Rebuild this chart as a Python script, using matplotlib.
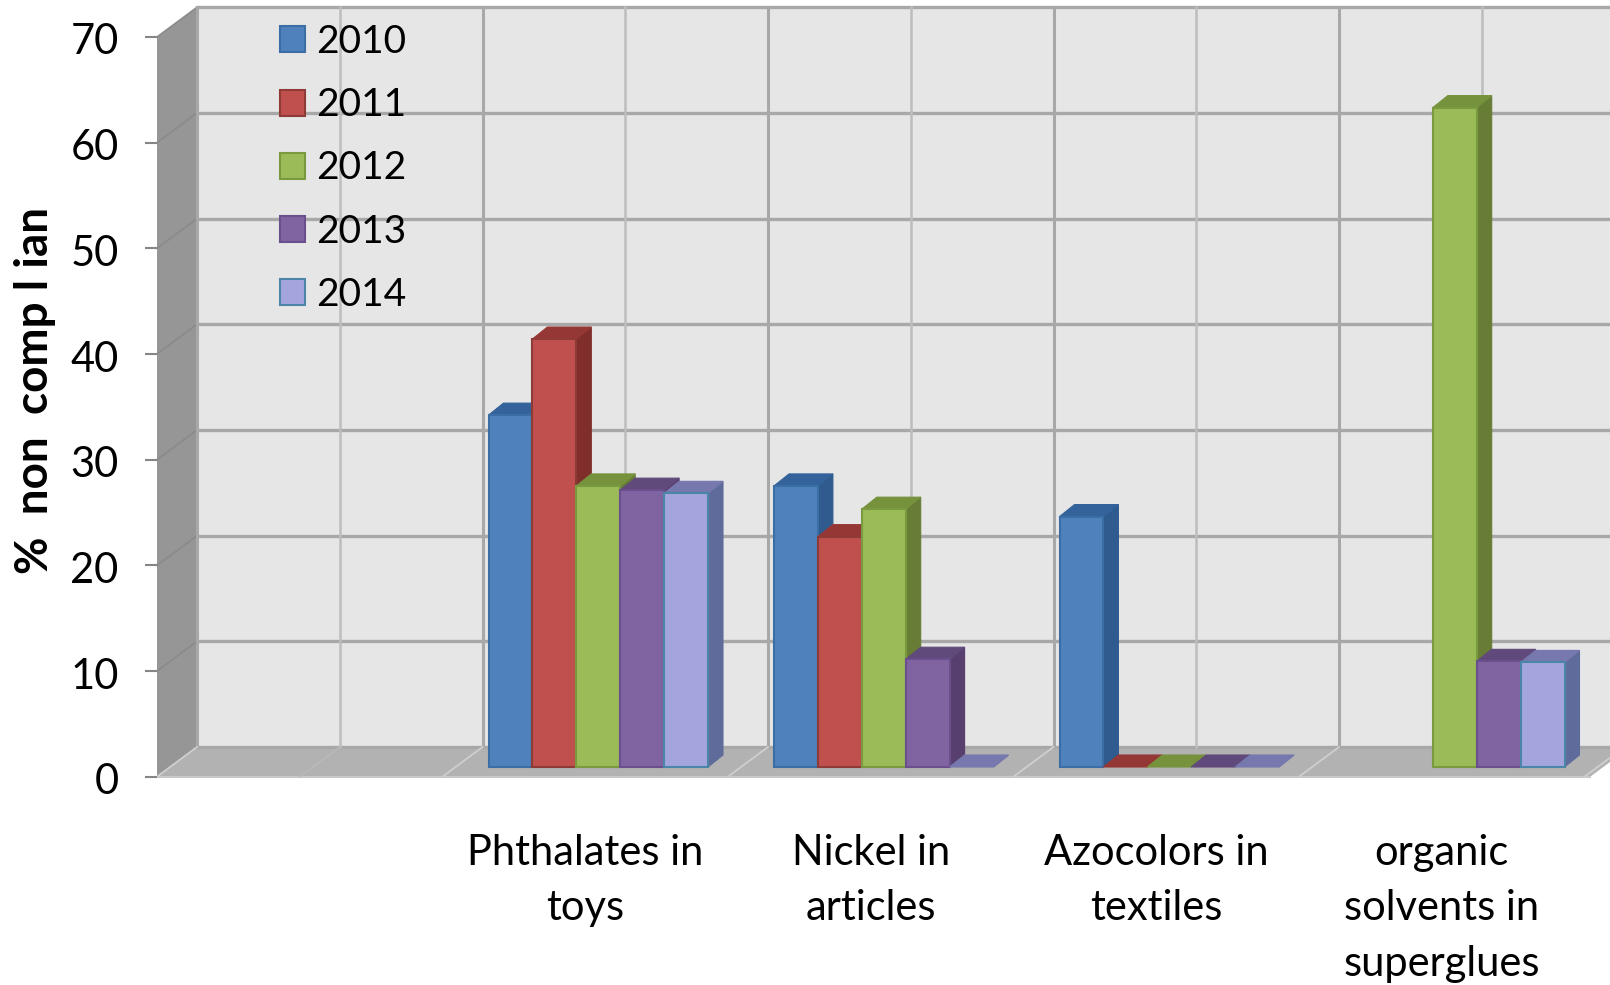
"""Pseudo 3D clustered column chart of non compliance per product group."""
import numpy as np
import matplotlib
matplotlib.use('Agg')
import matplotlib.pyplot as plt
from matplotlib.patches import Polygon, Patch
from matplotlib.transforms import ScaledTranslation

categories = ['', 'Phthalates in\ntoys', 'Nickel in\narticles', 'Azocolors in\ntextiles',
              'organic\nsolvents in\nsuperglues']
years = ['2010', '2011', '2012', '2013', '2014']
values_2010 = [np.nan, 33.3, 26.6, 23.7, np.nan]
values_2011 = [np.nan, 40.5, 21.8, 0, np.nan]
values_2012 = [np.nan, 26.6, 24.4, 0, 62.4]
values_2013 = [np.nan, 26.2, 10.2, 0, 10.0]
values_2014 = [np.nan, 25.9, 0, 0, 9.9]
series = [values_2010, values_2011, values_2012, values_2013, values_2014]
y_ticks = [0, 10, 20, 30, 40, 50, 60, 70]

face_colors = ['#4F81BD', '#C0504D', '#9BBB59', '#8064A2', '#A5A5DD']
side_colors = ['#2F5B8F', '#7F2E2C', '#677D36', '#57406F', '#5F6B9B']
top_colors = ['#33639A', '#953735', '#76923C', '#604A7B', '#7678AE']
edge_colors = ['#3A6EA5', '#8E3B38', '#7A9A40', '#6A4F8C', '#4A86A8']

plt.rcParams['font.family'] = ['Lato', 'DejaVu Sans']

W, H = 1610, 985
fig = plt.figure(figsize=(W / 100, H / 100), dpi=100, facecolor='white')
# the axes is the front plane of the floor and the left wall
left_px, right_px, bottom_px, top_px = 157, 1584.5, 776.7, 37
ax = fig.add_axes([left_px / W, 1 - bottom_px / H, (right_px - left_px) / W, (bottom_px - top_px) / H])
ax.set_xlim(-0.5, 4.5)
ax.set_ylim(0, 70)
ax.patch.set_visible(False)
for spine in ax.spines.values():
    spine.set_visible(False)

# pixel sizes turned into data units
px_x = 5 / (right_px - left_px)
px_y = 70 / (bottom_px - top_px)
wall_dx, wall_dy = 40 * px_x, 29.7 * px_y
bar_dx, bar_dy = 15 * px_x, 12 * px_y
bar_w = 43.9 * px_x
bar_inset = 46 * px_x
bar_base = 9.7 * px_y
x_end = 4.52

# walls and floor
ax.add_patch(Polygon([(-0.5 + wall_dx, wall_dy), (x_end + wall_dx, wall_dy),
                      (x_end + wall_dx, 70 + wall_dy), (-0.5 + wall_dx, 70 + wall_dy)],
                     fc='#E6E6E6', ec='none', zorder=0, clip_on=False))
ax.add_patch(Polygon([(-0.5, 0), (-0.5 + wall_dx, wall_dy), (-0.5 + wall_dx, 70 + wall_dy), (-0.5, 70)],
                     fc='#969696', ec='none', zorder=0, clip_on=False))
ax.add_patch(Polygon([(-0.5, 0), (x_end, 0), (x_end + wall_dx, wall_dy), (-0.5 + wall_dx, wall_dy)],
                     fc='#B2B2B2', ec='none', zorder=0, clip_on=False))
ax.plot([-0.5, x_end], [0, 0], color='#C8C8C8', lw=1.5, zorder=0.4, clip_on=False)

# grid on the back wall, lines running round the side wall
for v in y_ticks:
    ax.plot([-0.5 + wall_dx, x_end + wall_dx], [v + wall_dy, v + wall_dy],
            color='#A8A8A8', lw=2.4, zorder=0.5, clip_on=False)
    if v > 0:
        ax.plot([-0.5, -0.5 + wall_dx], [v, v + wall_dy], color='#8A8A8A', lw=1.2, zorder=0.5, clip_on=False)
for i in range(6):
    ax.plot([i - 0.5 + wall_dx] * 2, [wall_dy, 70 + wall_dy], color='#A8A8A8', lw=2.2, zorder=0.5, clip_on=False)
    ax.plot([i - 0.5, i - 0.5 + wall_dx], [0, wall_dy], color='#CFCFCF', lw=1.3, zorder=0.5, clip_on=False)
for i in range(5):
    ax.plot([i + wall_dx] * 2, [wall_dy, 70 + wall_dy], color='#BDBDBD', lw=1.8, zorder=0.5, clip_on=False)
# only the first group shows its faint middle line on the floor
ax.plot([0, wall_dx], [0, wall_dy], color='#BABABA', lw=1, zorder=0.5, clip_on=False)

# columns, left to right so each one covers the side of the one before
z = 1
for i in range(len(categories)):
    for j, vals in enumerate(series):
        v = vals[i]
        if np.isnan(v):
            continue
        x0 = i - 0.5 + bar_inset + j * bar_w
        x1 = x0 + bar_w
        y0 = bar_base
        y1 = bar_base + v
        ax.add_patch(Polygon([(x1, y0), (x1 + bar_dx, y0 + bar_dy), (x1 + bar_dx, y1 + bar_dy), (x1, y1)],
                             fc=side_colors[j], ec=side_colors[j], lw=0.8, zorder=z, clip_on=False))
        ax.add_patch(Polygon([(x0, y1), (x1, y1), (x1 + bar_dx, y1 + bar_dy), (x0 + bar_dx, y1 + bar_dy)],
                             fc=top_colors[j], ec=top_colors[j], lw=0.8, zorder=z + 0.1, clip_on=False))
        if v > 0:
            ax.bar(x0, v, bar_w, bottom=y0, align='edge', color=face_colors[j], edgecolor=edge_colors[j],
                   linewidth=1.5, zorder=z + 0.2, clip_on=False)
        z += 1

ax.set_yticks(y_ticks)
ax.set_xticks(range(len(categories)))
ax.set_xticklabels(categories, fontsize=30, linespacing=1.57, color='black')
ax.tick_params(axis='x', length=0, pad=41)
ax.tick_params(axis='y', length=8.6, width=1.5, color='#868686', labelsize=30, pad=19, labelcolor='black')
# numbers sit a little below their tick marks
nudge = ScaledTranslation(0, -2 / 100, fig.dpi_scale_trans)
for label in ax.get_yticklabels():
    label.set_transform(label.get_transform() + nudge)

ax.set_ylabel('%  non  comp l ian', fontsize=33, fontweight='bold')
ax.yaxis.set_label_coords((56 - left_px) / (right_px - left_px), (bottom_px - 390) / (bottom_px - top_px))

handles = [Patch(facecolor=face_colors[j], edgecolor=edge_colors[j], linewidth=1.5) for j in range(5)]
legend = ax.legend(handles, years, loc='upper left', bbox_to_anchor=(280 / W, 1 - 24 / H),
                   bbox_transform=fig.transFigure, frameon=False, fontsize=28, handlelength=0.65,
                   handleheight=0.65, handletextpad=0.29, labelspacing=0.7, borderpad=0, borderaxespad=0)
legend.set_zorder(200)

fig.savefig('out.png', dpi=100)
